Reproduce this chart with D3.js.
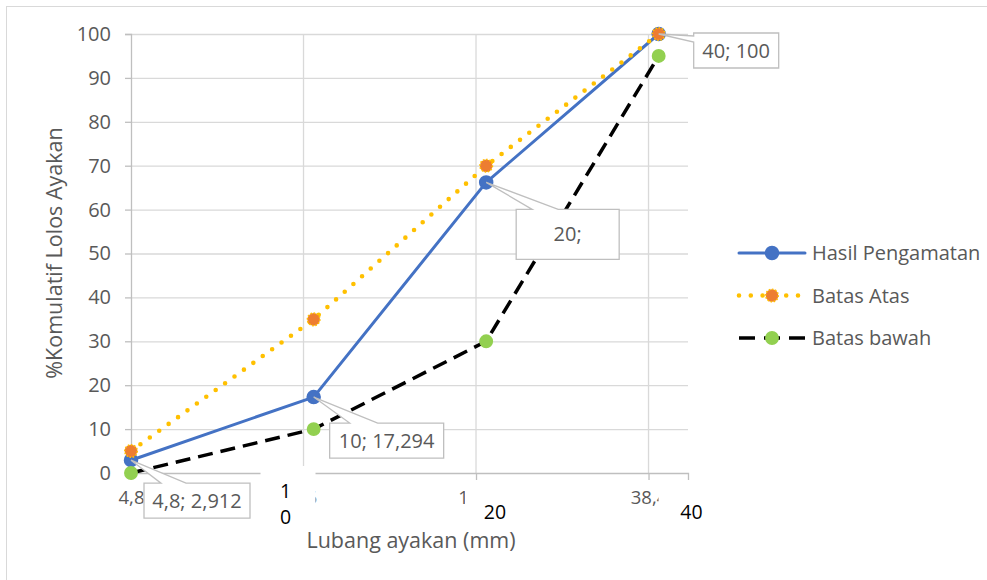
<!DOCTYPE html>
<html><head><meta charset="utf-8">
<script src="https://cdn.jsdelivr.net/npm/d3@7"></script>
<style>
body{margin:0;background:#fff}
text{font-family:'Open Sans',sans-serif}
</style>
</head><body>
<svg id="chart" width="987" height="580"></svg>
<script>
// ---- data ----
const xValues = [4.8, 10, 20, 40];
const hasilPengamatan = [2.912, 17.294, 66.2, 100];
const batasAtas = [5, 35, 70, 100];
const batasBawah = [0, 10, 30, 95];
const seriesNames = ["Hasil Pengamatan", "Batas Atas", "Batas bawah"];
const xTickValues = [4.8, 9.6, 19.2, 38.4];
const xTickLabels = ["4,8", "9,6", "19,2", "38,4"];
const yTickValues = [0, 10, 20, 30, 40, 50, 60, 70, 80, 90, 100];
const dataLabelTexts = ["4,8; 2,912", "10; 17,294", "20;", "40; 100"];
const xAxisTitle = "Lubang ayakan (mm)";
const yAxisTitle = "%Komulatif Lolos Ayakan";
const overlayTexts = [["1", "0"], ["20"], ["40"]];

// ---- setup ----
const svg = d3.select("#chart");
const FONT = 20, XTICK_FONT = 18.5, OVERLAY_FONT = 19.5, TITLE_FONT = 21.5, GREY = "#595959";
const x = d3.scaleLog().domain([4.8, 45]).range([131, 688]);
const y = d3.scaleLinear().domain([0, 100]).range([473, 34]);

// outer border
svg.append("rect").attr("x", 6.5).attr("y", 6.5).attr("width", 1000).attr("height", 600)
  .attr("fill", "#fff").attr("stroke", "#d9d9d9");

// gridlines
svg.append("g").selectAll("line").data(yTickValues.filter(d => d > 0)).join("line")
  .attr("x1", x.range()[0]).attr("x2", x.range()[1])
  .attr("y1", d => y(d) + 0.5).attr("y2", d => y(d) + 0.5)
  .attr("stroke", "#d9d9d9").attr("stroke-width", 1.3);
svg.append("g").selectAll("line").data(xTickValues.slice(1)).join("line")
  .attr("x1", d => x(d)).attr("x2", d => x(d))
  .attr("y1", y(100)).attr("y2", y(0))
  .attr("stroke", "#d9d9d9").attr("stroke-width", 1.3);

// y axis
const yAxis = svg.append("g").attr("transform", `translate(${x.range()[0]},0)`)
  .call(d3.axisLeft(y).tickValues(yTickValues).tickSize(6).tickPadding(14).tickFormat(d3.format("d")));
// x axis
const xAxis = svg.append("g").attr("transform", `translate(0,${y(0)})`)
  .call(d3.axisBottom(x).tickValues(xTickValues).tickSize(7).tickPadding(14)
    .tickFormat((d, i) => xTickLabels[i]));
[yAxis, xAxis].forEach(g => {
  g.select(".domain").attr("stroke", "#bfbfbf").attr("stroke-width", 1.3);
  g.selectAll(".tick line").attr("stroke", "#bfbfbf").attr("stroke-width", 1.3);
  g.selectAll(".tick text").attr("fill", GREY).attr("font-size", FONT)
    .attr("font-family", "'Open Sans',sans-serif");
});
xAxis.selectAll(".tick text").attr("dy", "0.55em").attr("font-size", XTICK_FONT);

// axis titles
svg.append("text").attr("x", 411).attr("y", 548).attr("text-anchor", "middle")
  .attr("font-size", TITLE_FONT).attr("fill", GREY).text(xAxisTitle);
svg.append("text").attr("transform", "translate(62,253) rotate(-90)").attr("text-anchor", "middle")
  .attr("font-size", TITLE_FONT).attr("fill", GREY).text(yAxisTitle);

// ---- series ----
const styles = [
  {line: "#4472C4", width: 3, dash: null, cap: "round", fill: "#4472C4", mstroke: "#4472C4", mdash: null, r: 6.5},
  {line: "#FFC000", width: 4.6, dash: "0 11.6", cap: "round", fill: "#ED7D31", mstroke: "#FFC000", mdash: "1.6 1.6", r: 6.3},
  {line: "#000000", width: 3.5, dash: "15 8", cap: "butt", fill: "#92D050", mstroke: "#92D050", mdash: null, r: 6.2}
];
const seriesValues = [hasilPengamatan, batasAtas, batasBawah];
const lineGen = d3.line().x(d => x(d[0])).y(d => y(d[1]));
seriesValues.forEach((vals, si) => {
  const st = styles[si];
  const pts = xValues.map((xv, i) => [xv, vals[i]]);
  svg.append("path").attr("d", lineGen(pts)).attr("fill", "none")
    .attr("stroke", st.line).attr("stroke-width", st.width)
    .attr("stroke-dasharray", st.dash).attr("stroke-linecap", st.cap).attr("stroke-linejoin", "round");
  svg.append("g").selectAll("circle").data(pts).join("circle")
    .attr("cx", d => x(d[0])).attr("cy", d => y(d[1])).attr("r", st.r)
    .attr("fill", st.fill).attr("stroke", st.mstroke).attr("stroke-width", 1.5)
    .attr("stroke-dasharray", st.mdash);
});

// ---- data label callouts (offsets relative to the data point) ----
const calloutLayout = [
  {dx: 13, dy: 23, w: 106, h: 35, side: "top", a: 30, b: 55},
  {dx: 16, dy: 26, w: 114, h: 35, side: "top", a: 36, b: 64},
  {dx: 30, dy: 27, w: 103, h: 50, side: "top", a: 46, b: 72},
  {dx: 35, dy: -1, w: 85, h: 35, side: "left", a: 2, b: 8}
];
dataLabelTexts.forEach((t, i) => {
  const px = x(xValues[i]), py = y(hasilPengamatan[i]);
  const L = calloutLayout[i];
  const x0 = px + L.dx, y0 = py + L.dy, x1 = x0 + L.w, y1 = y0 + L.h;
  let d;
  if (L.side === "top") {
    d = `M${x0},${y0}L${px + L.a},${y0}L${px},${py}L${px + L.b},${y0}L${x1},${y0}L${x1},${y1}L${x0},${y1}Z`;
  } else {
    d = `M${x0},${y0}L${x1},${y0}L${x1},${y1}L${x0},${y1}L${x0},${py + L.b}L${px},${py}L${x0},${py + L.a}Z`;
  }
  svg.append("path").attr("d", d).attr("fill", "#fff").attr("stroke", "#bfbfbf").attr("stroke-width", 1.3);
  svg.append("text").attr("x", (x0 + x1) / 2).attr("y", (y0 + y1) / 2 + 7)
    .attr("text-anchor", "middle").attr("font-size", FONT).attr("fill", GREY).text(t);
});

// ---- manual overlay text boxes (white boxes covering axis labels) ----
const overlayLayout = [
  {anchor: 9.6, dx: -43, top: 466, w: 55, h: 62, tx: -18, base: [498, 524]},
  {anchor: 19.2, dx: -11, top: 482, w: 58, h: 42, tx: 19, base: [518.5]},
  {anchor: 38.4, dx: 10, top: 482, w: 58, h: 42, tx: 43, base: [518.5]}
];
overlayTexts.forEach((lines, i) => {
  const L = overlayLayout[i], ax = x(L.anchor);
  svg.append("rect").attr("x", ax + L.dx).attr("y", L.top).attr("width", L.w).attr("height", L.h).attr("fill", "#fff");
  lines.forEach((s, j) => {
    svg.append("text").attr("x", ax + L.tx).attr("y", L.base[j]).attr("text-anchor", "middle")
      .attr("font-size", OVERLAY_FONT).attr("fill", "#000").text(s);
  });
});

// ---- legend ----
const legend = svg.append("g").attr("transform", "translate(739,253)");
seriesNames.forEach((name, i) => {
  const st = styles[i];
  const g = legend.append("g").attr("transform", `translate(0,${i * 42.5})`);
  g.append("line").attr("x1", 0).attr("x2", 66).attr("y1", 0).attr("y2", 0)
    .attr("stroke", st.line).attr("stroke-width", st.width)
    .attr("stroke-dasharray", i === 1 ? "0 11.8" : (i === 2 ? "16 9" : null)).attr("stroke-linecap", st.cap);
  g.append("circle").attr("cx", 33).attr("cy", 0).attr("r", st.r)
    .attr("fill", st.fill).attr("stroke", st.mstroke).attr("stroke-width", 1.5).attr("stroke-dasharray", st.mdash);
  g.append("text").attr("x", 73).attr("y", 7).attr("font-size", FONT).attr("fill", GREY).text(name);
});
</script>
</body></html>
